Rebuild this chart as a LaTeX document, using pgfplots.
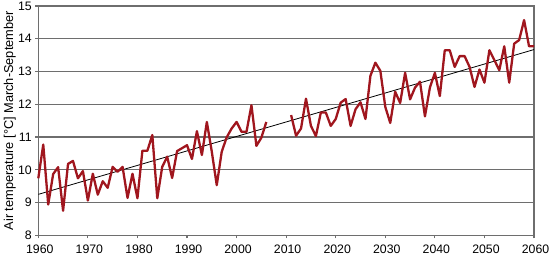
\documentclass[border=0pt]{standalone}
\usepackage{pgfplots}
\pgfplotsset{compat=1.18}
\usepackage{fontspec}
\setmainfont{Liberation Sans}
\definecolor{dred}{RGB}{160,22,30}
\definecolor{gridc}{RGB}{110,110,110}
\pgfplotstableread{
year temp
1960 9.74
1961 10.77
1962 8.94
1963 9.87
1964 10.08
1965 8.75
1966 10.18
1967 10.27
1968 9.74
1969 9.96
1970 9.06
1971 9.88
1972 9.24
1973 9.65
1974 9.45
1975 10.09
1976 9.94
1977 10.09
1978 9.14
1979 9.88
1980 9.13
1981 10.58
1982 10.58
1983 11.06
1984 9.13
1985 10.09
1986 10.40
1987 9.75
1988 10.57
1989 10.66
1990 10.75
1991 10.33
1992 11.18
1993 10.45
1994 11.46
1995 10.55
1996 9.53
1997 10.55
1998 10.99
1999 11.26
2000 11.46
2001 11.16
2002 11.16
2003 11.97
2004 10.73
2005 10.98
2006 11.46
2008 nan
2011 11.67
2012 11.04
2013 11.26
2014 12.17
2015 11.34
2016 11.03
2017 11.75
2018 11.75
2019 11.34
2020 11.55
2021 12.05
2022 12.16
2023 11.34
2024 11.85
2025 12.06
2026 11.55
2027 12.87
2028 13.27
2029 13.02
2030 11.92
2031 11.43
2032 12.38
2033 12.04
2034 12.96
2035 12.15
2036 12.51
2037 12.69
2038 11.63
2039 12.51
2040 12.96
2041 12.25
2042 13.65
2043 13.65
2044 13.14
2045 13.47
2046 13.47
2047 13.14
2048 12.53
2049 13.06
2050 12.66
2051 13.65
2052 13.35
2053 13.04
2054 13.77
2055 12.66
2056 13.85
2057 13.96
2058 14.57
2059 13.77
2060 13.77
}\temps
\pgfplotstableread{
year temp
1960 9.25
2060 13.67
}\trend
\begin{document}
\begin{tikzpicture}
\useasboundingbox (-38.3pt,-20.7pt) rectangle (514.7pt,235.3pt);
\begin{axis}[
  at={(0pt,0pt)}, anchor=south west,
  scale only axis, width=495.7pt, height=229.3pt,
  xmin=1960, xmax=2060, ymin=8, ymax=15,
  xtick={1960,1970,...,2060}, ytick={8,9,...,15},
  ymajorgrids,
  major grid style={gridc, line width=1.4pt},
  axis line style={gridc, line width=1.1pt},
  tick style={gridc, line width=1.1pt},
  tick align=outside, major tick length=3pt,
  xtick pos=bottom, ytick pos=left,
  ticklabel style={font=\fontsize{12.3}{14}\selectfont},
  /pgf/number format/assume math mode=true,
  /pgf/number format/1000 sep={},
  xticklabel style={inner sep=0pt, yshift=-6.3pt, xshift=1.5pt},
  ylabel={Air temperature [°C] March-September},
  ylabel style={at={(axis description cs:0,0.5)}, anchor=center, yshift=28.5pt, font=\fontsize{12.8}{14}\selectfont},
  unbounded coords=jump,
  clip=false,
]
\addplot[black, line width=0.8pt] table[x=year,y=temp]{\trend};
\addplot[dred, line width=2.3pt, line join=round] table[x=year,y=temp]{\temps};
\end{axis}
\end{tikzpicture}
\end{document}
